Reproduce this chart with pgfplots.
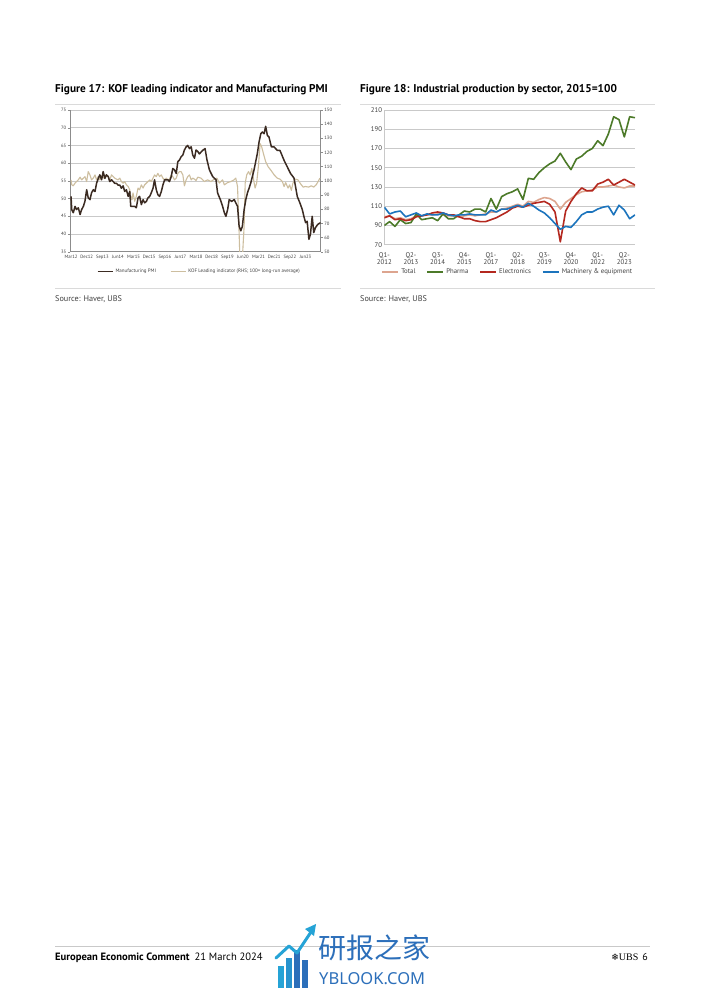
\documentclass[border=0pt]{standalone}
\usepackage{pgfplots}
\pgfplotsset{compat=1.18}
\usepackage{pgfplotstable}
\usepackage{fontspec}
\setmainfont{PT Sans}
\newfontfamily\cjk{Noto Sans CJK SC}
\newfontfamily\djv{DejaVu Sans}
\newfontfamily\lserif{Liberation Serif}
\newfontfamily\nsans{Noto Sans}
\definecolor{pmi}{HTML}{3B2B22}
\definecolor{kof}{HTML}{CDBE9F}
\definecolor{gridc}{HTML}{C9C9C9}
\definecolor{axc}{HTML}{8C8C8C}
\definecolor{txt}{HTML}{404040}
\definecolor{rulec}{HTML}{DADADA}
\definecolor{totalc}{HTML}{DDA58F}
\definecolor{pharmac}{HTML}{4C7A29}
\definecolor{elecc}{HTML}{B4281F}
\definecolor{machc}{HTML}{1C74BD}
\definecolor{wm}{HTML}{2C6FBA}
\definecolor{wm2}{HTML}{25A3D6}
\newcommand{\fs}[2]{\fontsize{#1bp}{#2bp}\selectfont}

\pgfplotstableread{
m v
0 50.6
0.4 46.9
1.3 46.0
2.3 47.8
3.2 46.9
4.2 47.4
5.2 45.5
6.1 46.9
7.1 47.8
8.0 49.2
9.0 52.5
9.9 50.2
10.9 49.7
11.8 51.6
12.8 52.5
13.8 52.0
14.7 54.3
15.7 55.7
16.6 56.7
17.6 55.3
18.5 57.6
19.5 55.7
20.4 56.7
21.4 56.2
22.3 54.8
23.3 55.3
24.3 54.8
25.2 54.3
26.2 54.3
27.1 53.8
28.1 53.8
29.0 52.9
30.0 53.6
30.9 52.0
31.9 52.5
32.9 50.6
33.8 52.0
34.4 47.8
35.7 47.8
36.7 47.8
37.6 47.4
38.6 50.2
39.5 50.6
40.5 48.3
41.5 49.7
42.4 48.8
43.4 49.2
44.3 50.2
45.3 50.6
46.2 51.6
47.2 52.9
48.1 55.3
49.1 52.5
50.0 51.1
51.0 50.6
52.0 52.0
52.9 53.8
53.9 55.3
55.8 55.3
56.7 54.8
57.7 56.2
58.6 58.5
59.6 58.1
60.6 57.1
61.5 60.4
62.5 60.9
63.4 61.8
64.4 62.3
65.3 63.7
66.3 64.6
67.2 65.0
68.2 64.1
69.2 64.6
70.1 62.3
71.1 61.4
72.0 63.7
73.0 63.3
73.9 62.6
75.8 63.6
77.2 64.1
78.3 60.9
79.7 58.1
81.6 56.2
83.5 55.3
84.4 51.6
86.0 49.7
87.3 47.8
88.3 46.0
89.2 45.0
90.2 46.9
91.1 49.7
92.5 49.2
94.0 49.7
94.9 48.8
95.9 47.8
96.8 42.2
97.8 40.9
98.7 42.2
99.7 46.9
100.7 49.8
101.6 51.6
102.6 53.0
103.5 54.4
105.4 58.1
107.3 62.7
108.3 66.0
109.3 68.3
110.2 68.8
111.2 68.3
112.1 70.4
113.1 67.8
114.0 67.4
115.4 64.6
116.9 64.6
118.8 63.6
120.3 63.6
121.1 62.7
122.6 60.9
124.5 59.0
126.4 57.1
128.4 55.8
129.3 53.4
130.3 50.6
131.8 48.8
133.2 46.9
134.1 45.0
135.1 43.2
136.0 43.6
137.0 38.5
137.9 39.9
138.9 45.0
139.8 40.4
140.8 41.8
142.1 42.7
143.7 43.2
}\pmidata

\pgfplotstableread{
m v
0 100.7
0.4 97.2
1.3 96.5
2.3 98.4
3.2 99.5
4.2 100.7
5.2 102.6
6.1 100.7
7.1 101.9
8.0 103.0
9.0 99.5
9.9 106.5
10.9 104.2
11.8 100.7
12.8 101.9
13.8 104.2
14.7 100.7
15.7 103.0
16.6 100.7
17.6 103.5
18.5 101.9
19.5 104.2
20.4 103.0
21.4 103.5
22.3 100.7
23.3 104.2
24.3 103.0
25.2 101.9
26.2 101.2
27.1 100.7
28.1 101.9
29.0 99.5
30.0 98.4
30.9 99.5
31.9 97.2
32.9 96.0
33.8 93.7
34.4 89.1
35.1 86.7
35.7 91.4
36.7 85.6
37.6 89.1
38.6 94.9
39.5 93.7
40.5 97.2
41.5 94.9
42.4 97.2
43.4 98.4
44.3 99.5
45.3 100.7
46.2 99.5
47.2 101.9
48.1 104.2
49.1 103.0
50.0 105.3
51.0 103.0
52.0 104.2
52.9 101.9
53.9 100.7
54.8 101.9
55.8 100.7
56.7 101.2
57.7 104.2
58.6 103.0
59.6 100.7
60.6 101.9
61.5 105.3
62.5 106.5
63.4 106.5
64.4 104.2
65.3 96.5
66.3 100.7
67.2 103.0
68.2 104.2
69.2 100.7
70.1 101.9
71.1 101.2
72.0 100.2
73.0 102.6
74.9 101.9
76.8 99.5
78.7 100.7
80.6 99.5
82.5 101.2
84.0 101.9
85.4 98.4
87.3 100.7
88.3 97.2
90.2 98.8
92.0 99.5
93.9 100.7
94.9 101.9
95.9 96.0
96.5 75.0
97.2 48.0
98.8 48.0
99.7 68.0
100.3 98.4
101.2 104.2
102.2 106.5
103.2 104.2
104.1 108.8
105.0 101.9
106.0 94.9
106.9 98.4
107.9 110.0
108.9 126.3
109.8 124.0
110.8 119.3
112.1 113.5
113.5 110.0
115.0 107.7
117.0 104.2
118.8 101.9
120.4 101.2
121.7 99.5
122.7 96.0
123.6 98.8
125.0 94.9
125.9 97.2
126.9 93.3
127.8 98.4
129.3 101.2
130.7 100.7
132.2 97.9
133.7 95.6
135.0 96.0
136.9 95.6
138.3 96.5
139.8 95.6
141.2 97.2
142.3 99.5
143.3 101.9
}\kofdata

\pgfplotstableread{
q total pharma elec mach
0 99 90 98 109
1 100 94 100 102
2 97 89 96 104
3 98 96 97 105
4 96 92 95 99
5 97 93 96 101
6 100 102 99 103
7 100 96 100 100
8 101 97 101 102
9 101 98 103 101
10 102 95 104 101
11 101 102 103 103
12 100 97 101 101
13 100 97 101 100
14 99 101 99 101
15 100 105 97 101
16 101 104 97 102
17 100 107 95 101
18 101 107 94 101
19 102 104 94 101
20 104 118 96 106
21 104 107 98 104
22 107 120 101 107
23 108 123 104 107
24 110 125 108 109
25 112 128 110 111
26 110 117 109 109
27 115 139 111 113
28 114 138 113 110
29 117 145 114 106
30 119 150 115 103
31 118 154 112 98
32 115 157 104 92
33 107 165 73 86
34 114 156 105 89
35 118 148 115 88
36 122 159 123 94
37 125 162 129 101
38 126 167 126 104
39 127 170 126 104
40 130 178 133 107
41 130 173 135 109
42 131 185 138 110
43 132 203 132 101
44 130 200 135 111
45 129 182 138 106
46 131 203 135 97
47 131 202 132 101
}\ipdata

\begin{document}
\begin{tikzpicture}
\path[use as bounding box, fill=white] (0bp,0bp) rectangle (702bp,-992bp);

% ---------- titles, rules, sources ----------
\node[anchor=base west, inner sep=0pt, font=\fs{11.3}{13}\bfseries] at (55bp,-92.5bp) {Figure 17: KOF leading indicator and Manufacturing PMI};
\node[anchor=base west, inner sep=0pt, font=\fs{11.3}{13}\bfseries] at (360bp,-92.5bp) {Figure 18: Industrial production by sector, 2015=100};
\draw[rulec, line width=0.6bp] (55bp,-104bp) -- (341bp,-104bp);
\draw[rulec, line width=0.6bp] (360bp,-104bp) -- (655bp,-104bp);
\draw[rulec, line width=0.6bp] (55bp,-288bp) -- (341bp,-288bp);
\draw[rulec, line width=0.6bp] (360bp,-288bp) -- (655bp,-288bp);
\node[anchor=base west, inner sep=0pt, font=\fs{8.2}{9}, text=txt] at (55bp,-301bp) {Source: Haver, UBS};
\node[anchor=base west, inner sep=0pt, font=\fs{8.2}{9}, text=txt] at (360bp,-301bp) {Source: Haver, UBS};

% ---------- Figure 17: grid and left axis ----------
\begin{axis}[
  at={(70bp,-251.7bp)}, anchor=south west,
  scale only axis, width=250.7bp, height=141.7bp,
  xmin=-0.6, xmax=143.8, ymin=35, ymax=75,
  axis x line*=bottom, axis y line*=left,
  axis line style={axc, line width=0.5bp},
  xtick={0,9,...,135},
  xticklabels={Mar12,Dec12,Sep13,Jun14,Mar15,Dec15,Sep16,Jun17,Mar18,Dec18,Sep19,Jun20,Mar21,Dec21,Sep22,Jun23},
  ytick={35,40,...,75},
  ymajorgrids, grid style={gridc, line width=0.5bp},
  tick style={axc, line width=0.4bp},
  tick align=outside,
  x tick style={draw=none},
  major tick length=2bp,
  ticklabel style={font=\fs{4.7}{5}, text=txt},
  xticklabel style={inner sep=1bp},
  yticklabel style={inner sep=1.5bp},
  /pgf/number format/assume math mode=true,
]
\addplot[draw=none] coordinates {(0,50)};
\end{axis}

% ---------- Figure 17: right axis with KOF ----------
\begin{axis}[
  at={(70bp,-251.7bp)}, anchor=south west,
  scale only axis, width=250.7bp, height=141.7bp,
  xmin=-0.6, xmax=143.8, ymin=50, ymax=150,
  axis x line=none, axis y line*=right,
  axis line style={axc, line width=0.5bp},
  ytick={50,60,...,150},
  tick style={axc, line width=0.4bp},
  tick align=outside, major tick length=2bp,
  ticklabel style={font=\fs{4.7}{5}, text=txt},
  yticklabel style={inner sep=1.5bp},
  /pgf/number format/assume math mode=true,
]
\addplot[color=kof, line width=1.1bp, line join=round] table[x=m, y=v] {\kofdata};
\end{axis}

% ---------- Figure 17: PMI on top ----------
\begin{axis}[
  at={(70bp,-251.7bp)}, anchor=south west,
  scale only axis, width=250.7bp, height=141.7bp,
  xmin=-0.6, xmax=143.8, ymin=35, ymax=75,
  hide axis,
  legend columns=2,
  legend style={at={(0.516,-0.14)}, anchor=center, draw=none, fill=none,
    font=\fs{5}{6}, inner sep=0pt,
    /tikz/every even column/.append style={column sep=12bp}},
]
\addplot[forget plot, color=pmi, line width=1.5bp, line join=round] table[x=m, y=v] {\pmidata};
\addlegendimage{legend image code/.code={\draw[pmi, line width=1.6bp] (0bp,0bp) -- (15bp,0bp);}}
\addlegendentry{\textcolor{txt}{Manufacturing PMI}}
\addlegendimage{legend image code/.code={\draw[kof, line width=1.2bp] (0bp,0bp) -- (15bp,0bp);}}
\addlegendentry{\textcolor{txt}{KOF Leading indicator (RHS; 100= long-run average)}}
\end{axis}

% ---------- Figure 18 ----------
\begin{axis}[
  at={(384.3bp,-244.7bp)}, anchor=south west,
  scale only axis, width=250.7bp, height=134.7bp,
  xmin=0, xmax=47, ymin=70, ymax=210,
  axis x line*=bottom, axis y line*=left,
  axis line style={gridc, line width=0.8bp},
  ytick={70,90,...,210},
  ymajorgrids, grid style={gridc, line width=0.8bp},
  xtick={0,5,...,45},
  xticklabels={{Q1-\\2012},{Q2-\\2013},{Q3-\\2014},{Q4-\\2015},{Q1-\\2017},{Q2-\\2018},{Q3-\\2019},{Q4-\\2020},{Q1-\\2022},{Q2-\\2023}},
  major tick length=0pt,
  ticklabel style={font=\fs{6.8}{7.2}, text=txt},
  xticklabel style={align=center, inner sep=1.5bp, yshift=-6bp},
  yticklabel style={inner sep=2bp},
  /pgf/number format/assume math mode=true,
  legend columns=4,
  legend style={at={(-0.012,-0.2)}, anchor=west, draw=none, fill=none,
    font=\fs{6.8}{7.5}, inner sep=0pt,
    /tikz/every even column/.append style={column sep=9bp}},
]
\addplot[forget plot, color=totalc, line width=1.6bp, line join=round] table[x=q, y=total] {\ipdata};
\addplot[forget plot, color=pharmac, line width=1.6bp, line join=round] table[x=q, y=pharma] {\ipdata};
\addplot[forget plot, color=elecc, line width=1.6bp, line join=round] table[x=q, y=elec] {\ipdata};
\addplot[forget plot, color=machc, line width=1.6bp, line join=round] table[x=q, y=mach] {\ipdata};
\addlegendimage{legend image code/.code={\draw[totalc, line width=1.8bp] (0bp,0bp) -- (16bp,0bp);}}
\addlegendentry{\textcolor{txt}{Total}}
\addlegendimage{legend image code/.code={\draw[pharmac, line width=1.8bp] (0bp,0bp) -- (16bp,0bp);}}
\addlegendentry{\textcolor{txt}{Pharma}}
\addlegendimage{legend image code/.code={\draw[elecc, line width=1.8bp] (0bp,0bp) -- (16bp,0bp);}}
\addlegendentry{\textcolor{txt}{Electronics}}
\addlegendimage{legend image code/.code={\draw[machc, line width=1.8bp] (0bp,0bp) -- (16bp,0bp);}}
\addlegendentry{\textcolor{txt}{Machinery \& equipment}}
\end{axis}

% ---------- footer ----------
\draw[gridc, line width=0.7bp] (55bp,-946bp) -- (650bp,-946bp);
\node[anchor=base west, inner sep=0pt, font=\fs{10.6}{12}] at (55bp,-960bp) {\textbf{European Economic Comment}\hspace{5bp}21 March 2024};
\node[anchor=base east, inner sep=0pt, font=\fs{10}{12}] at (648bp,-960bp) {{\djv\fs{9}{10}❄}{\lserif UBS}\hspace{4bp}6};

% watermark
\fill[wm2] (278bp,-988bp) rectangle (284bp,-966bp);
\fill[wm2!70!wm] (286bp,-988bp) rectangle (292bp,-958bp);
\fill[wm] (294bp,-988bp) rectangle (300bp,-950bp);
\fill[wm] (302bp,-988bp) rectangle (308bp,-960bp);
\draw[wm2, line width=3bp, line cap=round, line join=round] (276bp,-958bp) -- (289bp,-946bp) -- (297bp,-953bp) -- (311bp,-932bp);
\fill[wm2] (316bp,-924bp) -- (305bp,-929bp) -- (314bp,-936bp) -- cycle;
\node[anchor=base west, inner sep=0pt, font=\cjk\fs{28}{30}, text=wm] at (318bp,-958bp) {研报之家};
\node[anchor=base west, inner sep=0pt, font=\nsans\fs{16.5}{18}, text=wm] at (319bp,-984bp) {YBLOOK.COM};
\end{tikzpicture}
\end{document}
